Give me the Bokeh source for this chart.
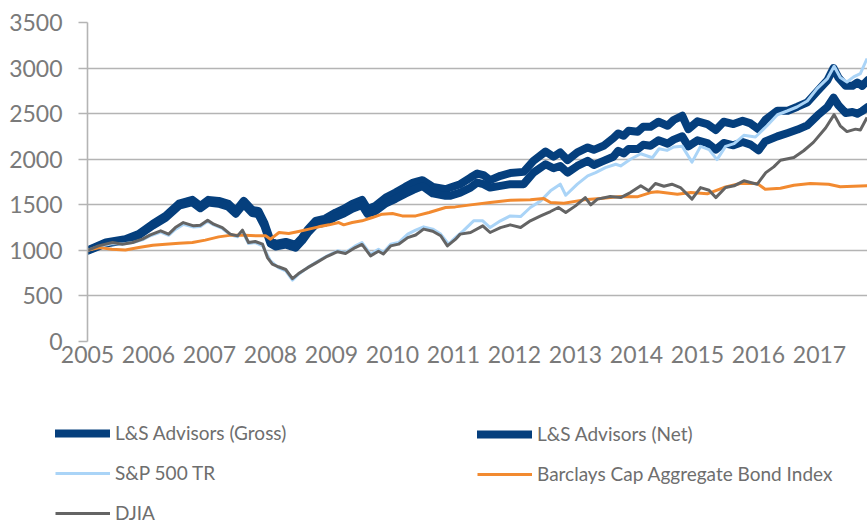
from bokeh.plotting import figure
from bokeh.models import Range1d, Legend, LegendItem, FixedTicker
from bokeh.embed import file_html
from bokeh.resources import INLINE

# ---- data ----
gross_x = [2005.0, 2005.3, 2005.62, 2005.84, 2006.07, 2006.28, 2006.5, 2006.72, 2006.85, 2006.98,
           2007.15, 2007.31, 2007.43, 2007.56, 2007.7, 2007.8, 2007.9, 2008.0, 2008.08, 2008.25,
           2008.41, 2008.52, 2008.62, 2008.74, 2008.9, 2009.07, 2009.2, 2009.34, 2009.5, 2009.59,
           2009.72, 2009.89, 2010.05, 2010.21, 2010.34, 2010.49, 2010.66, 2010.87, 2010.95, 2011.11,
           2011.28, 2011.39, 2011.49, 2011.6, 2011.77, 2011.93, 2012.15, 2012.31, 2012.51, 2012.64,
           2012.75, 2012.87, 2013.03, 2013.2, 2013.3, 2013.46, 2013.62, 2013.7, 2013.79, 2013.87,
           2014.02, 2014.11, 2014.23, 2014.36, 2014.51, 2014.61, 2014.75, 2014.85, 2015.0, 2015.16,
           2015.3, 2015.43, 2015.59, 2015.74, 2015.87, 2016.0, 2016.11, 2016.31, 2016.48, 2016.64,
           2016.8, 2016.97, 2017.13, 2017.23, 2017.31, 2017.43, 2017.54, 2017.62, 2017.7, 2017.79]
gross_y = [1000, 1086, 1123, 1180, 1290, 1378, 1513, 1554, 1488, 1554,
           1543, 1510, 1433, 1543, 1444, 1433, 1300, 1104, 1071, 1093,
           1060, 1140, 1236, 1324, 1349, 1415, 1455, 1510, 1554, 1455,
           1488, 1579, 1634, 1697, 1744, 1770, 1697, 1671, 1689, 1726,
           1799, 1843, 1826, 1771, 1818, 1848, 1861, 1982, 2085, 2027,
           2074, 1990, 2074, 2129, 2103, 2147, 2231, 2282, 2257, 2312,
           2301, 2356, 2356, 2411, 2367, 2430, 2477, 2330, 2415, 2386,
           2320, 2411, 2386, 2422, 2393, 2330, 2430, 2532, 2532, 2576,
           2624, 2750, 2867, 2999, 2896, 2805, 2805, 2842, 2805, 2867]

net_x = gross_x
net_y = [995, 1075, 1110, 1165, 1272, 1358, 1490, 1528, 1462, 1525,
         1512, 1478, 1402, 1508, 1410, 1398, 1268, 1075, 1043, 1063,
         1030, 1107, 1199, 1283, 1306, 1368, 1404, 1456, 1497, 1400,
         1430, 1515, 1566, 1622, 1664, 1705, 1625, 1598, 1600, 1634,
         1689, 1744, 1726, 1689, 1708, 1726, 1726, 1853, 1945, 1901,
         1926, 1853, 1926, 1982, 1937, 1982, 2027, 2093, 2063, 2111,
         2111, 2158, 2147, 2207, 2171, 2215, 2251, 2141, 2207, 2178,
         2105, 2178, 2152, 2189, 2160, 2097, 2196, 2251, 2288, 2325,
         2372, 2482, 2573, 2676, 2592, 2507, 2518, 2500, 2529, 2573]

sp_x = [2005.0, 2005.18, 2005.41, 2005.57, 2005.74, 2005.9, 2006.03, 2006.2, 2006.33, 2006.44,
        2006.57, 2006.74, 2006.85, 2006.97, 2007.07, 2007.21, 2007.34, 2007.46, 2007.54, 2007.64,
        2007.75, 2007.87, 2008.0, 2008.13, 2008.25, 2008.36, 2008.46, 2008.61, 2008.74, 2008.93,
        2009.1, 2009.23, 2009.39, 2009.5, 2009.64, 2009.77, 2009.85, 2009.97, 2010.1, 2010.25,
        2010.38, 2010.51, 2010.66, 2010.79, 2010.92, 2011.03, 2011.16, 2011.33, 2011.48, 2011.6,
        2011.77, 2011.93, 2012.1, 2012.26, 2012.43, 2012.59, 2012.75, 2012.84, 2013.03, 2013.2,
        2013.33, 2013.49, 2013.66, 2013.74, 2013.9, 2014.07, 2014.26, 2014.37, 2014.5, 2014.61,
        2014.75, 2014.91, 2015.05, 2015.19, 2015.32, 2015.46, 2015.6, 2015.76, 2015.95, 2016.14,
        2016.31, 2016.47, 2016.63, 2016.8, 2016.96, 2017.13, 2017.24, 2017.34, 2017.45, 2017.56,
        2017.67, 2017.78]
sp_y = [1000, 1040, 1075, 1070, 1085, 1115, 1160, 1200, 1165, 1230,
        1285, 1255, 1262, 1318, 1280, 1240, 1170, 1150, 1210, 1075,
        1085, 1050, 884, 811, 774, 673, 738, 811, 866, 940,
        995, 976, 1049, 1086, 958, 1013, 976, 1068, 1086, 1178,
        1222, 1258, 1233, 1178, 1068, 1140, 1214, 1324, 1324, 1250,
        1324, 1378, 1371, 1470, 1543, 1653, 1726, 1605, 1726, 1818,
        1853, 1908, 1945, 1926, 2000, 2060, 2016, 2115, 2097, 2134,
        2141, 1968, 2141, 2105, 1996, 2141, 2171, 2262, 2244, 2367,
        2488, 2529, 2573, 2639, 2775, 2885, 3020, 2896, 2848, 2903,
        2940, 3105]

bond_x = [2005.0, 2005.2, 2005.4, 2005.62, 2005.84, 2006.07, 2006.28, 2006.5, 2006.72, 2006.93,
          2007.15, 2007.36, 2007.58, 2007.8, 2007.92, 2008.0, 2008.14, 2008.3, 2008.46, 2008.63,
          2008.79, 2008.96, 2009.12, 2009.2, 2009.34, 2009.5, 2009.67, 2009.83, 2010.0, 2010.16,
          2010.38, 2010.6, 2010.87, 2011.03, 2011.28, 2011.6, 2011.93, 2012.26, 2012.48, 2012.59,
          2012.81, 2013.14, 2013.41, 2013.74, 2014.01, 2014.23, 2014.34, 2014.67, 2014.89, 2015.16,
          2015.43, 2015.7, 2015.98, 2016.11, 2016.36, 2016.58, 2016.85, 2017.15, 2017.34, 2017.56,
          2017.78]
bond_y = [1000, 1030, 1013, 1005, 1031, 1057, 1068, 1079, 1086, 1112,
          1148, 1167, 1167, 1159, 1160, 1123, 1196, 1185, 1207, 1233,
          1258, 1280, 1305, 1280, 1305, 1324, 1360, 1397, 1404, 1378,
          1378, 1415, 1470, 1477, 1499, 1525, 1551, 1554, 1568, 1525,
          1518, 1554, 1568, 1590, 1587, 1634, 1642, 1616, 1634, 1620,
          1689, 1733, 1733, 1671, 1682, 1715, 1733, 1726, 1697, 1704,
          1708]

djia_x = [2005.0, 2005.18, 2005.41, 2005.57, 2005.74, 2005.9, 2006.03, 2006.2, 2006.33, 2006.44,
          2006.57, 2006.74, 2006.85, 2006.97, 2007.07, 2007.21, 2007.34, 2007.46, 2007.54, 2007.64,
          2007.75, 2007.87, 2007.95, 2008.03, 2008.13, 2008.25, 2008.36, 2008.46, 2008.61, 2008.74,
          2008.93, 2009.1, 2009.23, 2009.39, 2009.5, 2009.64, 2009.77, 2009.85, 2009.97, 2010.1,
          2010.25, 2010.38, 2010.51, 2010.66, 2010.79, 2010.9, 2011.03, 2011.11, 2011.28, 2011.48,
          2011.6, 2011.77, 2011.93, 2012.1, 2012.26, 2012.43, 2012.59, 2012.72, 2012.84, 2013.0,
          2013.16, 2013.25, 2013.36, 2013.57, 2013.74, 2013.9, 2014.07, 2014.2, 2014.31, 2014.45,
          2014.58, 2014.72, 2014.91, 2015.05, 2015.19, 2015.3, 2015.46, 2015.6, 2015.76, 2015.98,
          2016.12, 2016.25, 2016.36, 2016.58, 2016.74, 2016.9, 2017.1, 2017.24, 2017.34, 2017.45,
          2017.59, 2017.67, 2017.78]
djia_y = [1000, 1049, 1086, 1068, 1086, 1123, 1170, 1214, 1178, 1250,
          1305, 1269, 1276, 1331, 1287, 1250, 1178, 1159, 1222, 1086,
          1097, 1068, 921, 848, 820, 790, 690, 745, 810, 860,
          935, 985, 965, 1031, 1065, 940, 990, 960, 1049, 1068,
          1140, 1168, 1233, 1210, 1160, 1049, 1120, 1178, 1196, 1269,
          1196, 1250, 1280, 1250, 1324, 1378, 1426, 1470, 1415, 1488,
          1579, 1499, 1562, 1590, 1579, 1634, 1708, 1653, 1733, 1704,
          1726, 1689, 1562, 1689, 1660, 1579, 1689, 1708, 1763, 1726,
          1853, 1916, 1989, 2018, 2093, 2185, 2343, 2489, 2367, 2303,
          2330, 2320, 2457]

year_ticks = list(range(2005, 2018))
y_ticks = [0, 500, 1000, 1500, 2000, 2500, 3000, 3500]

names = ["L&S Advisors (Gross)", "L&S Advisors (Net)", "S&P 500 TR",
         "Barclays Cap Aggregate Bond Index", "DJIA"]

# ---- styling ----
NAVY = "#053f7d"
LIGHT = "#aad4f7"
ORANGE = "#f28a30"
GRAY = "#646464"
GRID = "#b4b4b4"
TXT = "#7a7a7a"
FONT = "Lato"
W = 867
MAIN_H = 380
LEG_H = 147

p = figure(width=W, height=MAIN_H, output_backend="svg", toolbar_location=None,
           x_range=Range1d(2005, 2017.787), y_range=Range1d(0, 3500),
           min_border_left=87, min_border_right=0, min_border_top=22, min_border_bottom=MAIN_H - 341)
p.outline_line_color = None
p.background_fill_color = "white"
p.border_fill_color = "white"

p.xgrid.visible = False
p.ygrid.grid_line_color = GRID
p.ygrid.grid_line_width = 1.6
p.yaxis.ticker = FixedTicker(ticks=y_ticks)
p.xaxis.ticker = FixedTicker(ticks=year_ticks)
p.xaxis.major_label_overrides = {y: str(y) for y in year_ticks}

for ax in (p.xaxis[0], p.yaxis[0]):
    ax.major_label_text_font = FONT
    ax.major_label_text_font_size = "23px"
    ax.major_label_text_color = TXT
    ax.minor_tick_line_color = None

p.yaxis.axis_line_color = GRID
p.yaxis.axis_line_width = 1.6
p.yaxis.major_tick_line_color = GRID
p.yaxis.major_tick_line_width = 1.6
p.yaxis.major_tick_out = 9
p.yaxis.major_tick_in = 0
p.yaxis.major_label_standoff = 16

p.xaxis.axis_line_color = None
p.xaxis.major_tick_line_color = None
p.xaxis.major_tick_out = 0
p.xaxis.major_tick_in = 0
p.xaxis.major_label_standoff = 4

styles = [dict(line_color=NAVY, line_width=8, line_join="round", line_cap="round"),
          dict(line_color=NAVY, line_width=8, line_join="round", line_cap="round"),
          dict(line_color=LIGHT, line_width=3, line_join="round"),
          dict(line_color=ORANGE, line_width=3, line_join="round"),
          dict(line_color=GRAY, line_width=3, line_join="round")]
series = [(gross_x, gross_y), (net_x, net_y), (sp_x, sp_y), (bond_x, bond_y), (djia_x, djia_y)]
for (xs, ys), st in zip(series, styles):
    p.line(xs, ys, **st)

# ---- legend panel (separate root under the chart) ----
q = figure(width=W, height=LEG_H, output_backend="svg", toolbar_location=None,
           x_range=Range1d(0, 1), y_range=Range1d(0, 1),
           min_border_left=0, min_border_right=0, min_border_top=0, min_border_bottom=0)
q.axis.visible = False
q.grid.visible = False
q.outline_line_color = None
q.border_fill_color = "white"
q.background_fill_color = "white"
# same series (outside this panel's view), used only as legend glyph sources
leg_r = [q.line(xs, ys, **st) for (xs, ys), st in zip(series, styles)]


def make_legend(items, loc):
    return Legend(items=items, location=loc, orientation="vertical",
                  padding=0, margin=0, spacing=17, glyph_width=55, glyph_height=18,
                  label_height=18, label_standoff=5,
                  label_text_font=FONT, label_text_font_size="19px", label_text_color="#6e6e6e",
                  border_line_color=None, background_fill_alpha=0)


leg1 = make_legend([LegendItem(label=names[0], renderers=[leg_r[0]]),
                    LegendItem(label=names[2], renderers=[leg_r[2]]),
                    LegendItem(label=names[4], renderers=[leg_r[4]])], (55, 3))
leg2 = make_legend([LegendItem(label=names[1], renderers=[leg_r[1]]),
                    LegendItem(label=names[3], renderers=[leg_r[3]])], (477, 42))
q.add_layout(leg1, "center")
q.add_layout(leg2, "center")

open("out.html", "w").write(file_html([p, q], INLINE))
